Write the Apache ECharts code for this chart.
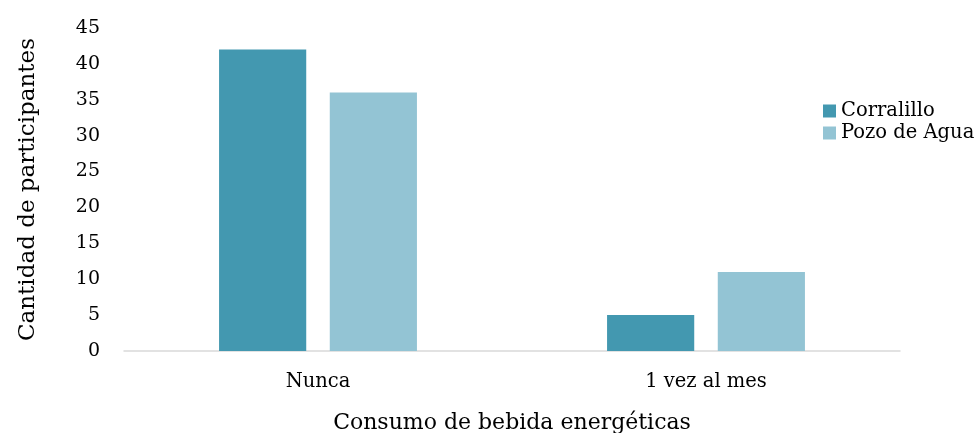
<!DOCTYPE html>
<html>
<head>
<meta charset="utf-8">
<script src="https://cdn.jsdelivr.net/npm/echarts@6/dist/echarts.min.js"></script>
<style>
  html, body { margin: 0; padding: 0; background: #fff; }
  #chart { width: 979px; height: 433px; }
</style>
</head>
<body>
<div id="chart"></div>
<script>
  // datos
  const categories = ['Nunca', '1 vez al mes'];
  const corralillo = [42, 5];
  const pozoDeAgua = [36, 11];
  const yTicks = { min: 0, max: 45, interval: 5 };

  const serif = '"DejaVu Serif", serif';
  const chart = echarts.init(document.getElementById('chart'));

  chart.setOption({
    animation: false,
    textStyle: { fontFamily: serif },
    color: ['#4398B0', '#93C4D4'],
    grid: { left: 124, right: 79, top: 28, bottom: 82, containLabel: false, outerBoundsMode: 'none' },
    legend: {
      orient: 'vertical',
      left: 818,
      top: 96,
      itemWidth: 13,
      itemHeight: 13,
      itemGap: 2,
      icon: 'rect',
      textStyle: { fontFamily: serif, fontSize: 19.5, color: '#000' },
      data: ['Corralillo', 'Pozo de Agua']
    },
    xAxis: {
      type: 'category',
      data: categories,
      name: 'Consumo de bebida energéticas',
      nameLocation: 'middle',
      nameGap: 61,
      nameTextStyle: { fontSize: 22, color: '#000' },
      axisLine: { lineStyle: { color: '#d9d9d9', width: 1.5 } },
      axisTick: { show: false },
      axisLabel: { fontSize: 19.5, color: '#000', margin: 21 }
    },
    yAxis: {
      type: 'value',
      min: yTicks.min,
      max: yTicks.max,
      interval: yTicks.interval,
      name: 'Cantidad de participantes',
      nameLocation: 'middle',
      nameGap: 84,
      nameTextStyle: { fontSize: 23, color: '#000' },
      axisLine: { show: false },
      axisTick: { show: false },
      splitLine: { show: false },
      axisLabel: { fontSize: 19, color: '#000', margin: 24 }
    },
    series: [
      {
        name: 'Corralillo',
        type: 'bar',
        data: corralillo,
        barGap: '27%',
        barCategoryGap: '49%'
      },
      {
        name: 'Pozo de Agua',
        type: 'bar',
        data: pozoDeAgua
      }
    ]
  });
</script>
</body>
</html>
